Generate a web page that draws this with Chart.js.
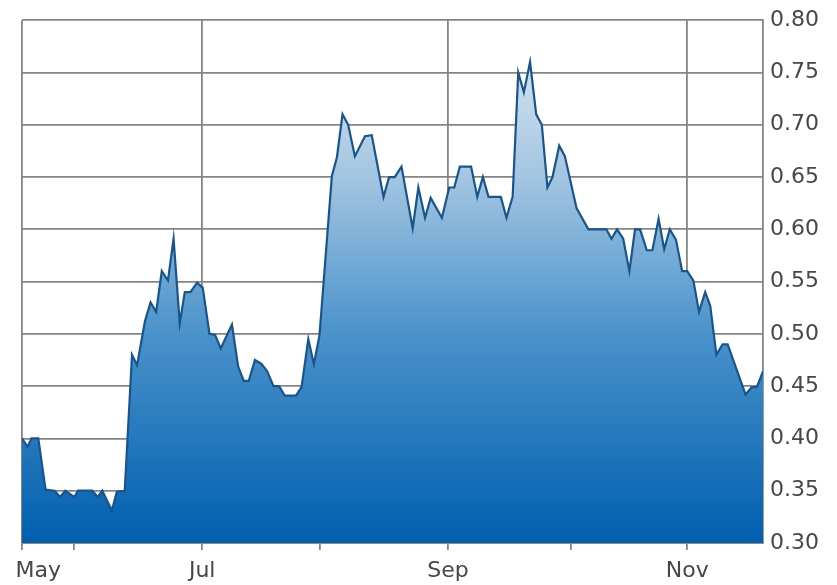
<!DOCTYPE html>
<html>
<head>
<meta charset="utf-8">
<script src="https://cdn.jsdelivr.net/npm/chart.js@4/dist/chart.umd.min.js"></script>
<style>
  html, body { margin: 0; padding: 0; background: #ffffff; }
  canvas { display: block; }
</style>
</head>
<body>
<canvas id="c" width="837" height="585"></canvas>
<script>
// Trading-day position (index) of each turning point of the line
const dayIndex = [0, 1.0, 1.7, 2.9, 4.2, 5.8, 6.8, 7.7, 9.3, 10.0, 12.5, 13.5, 14.3, 16.0, 16.9, 18.3,
  19.6, 20.5, 21.9, 22.9, 23.9, 24.9, 26.0, 27.0, 28.1, 29.0, 30.0, 31.2, 32.2, 33.4, 34.4, 35.4,
  37.4, 38.5, 39.5, 40.4, 41.5, 42.7, 43.7, 44.8, 45.8, 46.8, 48.8, 49.8, 51.0, 52.0, 53.0,
  55.2, 56.1, 57.1, 58.1, 59.3, 61.1, 62.3, 64.4, 65.4, 66.4, 67.6, 69.6, 70.6, 71.8, 72.8,
  74.8, 76.1, 77.0, 78.0, 80.0, 81.1, 82.1, 83.1, 85.3, 86.3, 87.4, 88.4, 89.4, 90.5, 91.6,
  92.6, 93.6, 94.5, 95.7, 96.7, 98.8, 100.9, 104.1, 105.0, 106.0, 107.1, 108.2, 109.2, 110.1,
  111.3, 112.3, 113.4, 114.4, 115.4, 116.5, 117.6, 118.5, 119.6, 120.6, 121.7, 122.6, 123.7,
  124.8, 125.7, 128.9, 130.0, 130.9, 132.0];
const values = [0.400, 0.392, 0.400, 0.400, 0.351, 0.350, 0.344, 0.350, 0.344, 0.350, 0.350, 0.344, 0.350, 0.331, 0.349, 0.350,
  0.480, 0.470, 0.512, 0.530, 0.521, 0.560, 0.551, 0.591, 0.510, 0.540, 0.540, 0.549, 0.544, 0.500, 0.499, 0.486,
  0.509, 0.469, 0.455, 0.455, 0.475, 0.471, 0.464, 0.450, 0.450, 0.441, 0.441, 0.449, 0.495, 0.471, 0.499,
  0.651, 0.669, 0.710, 0.700, 0.670, 0.689, 0.690, 0.631, 0.650, 0.650, 0.660, 0.601, 0.640, 0.611, 0.630,
  0.611, 0.640, 0.640, 0.660, 0.660, 0.631, 0.650, 0.631, 0.631, 0.611, 0.631, 0.750, 0.731, 0.760, 0.710,
  0.700, 0.640, 0.650, 0.680, 0.670, 0.620, 0.600, 0.600, 0.591, 0.600, 0.591, 0.560, 0.600, 0.600,
  0.580, 0.580, 0.610, 0.581, 0.600, 0.590, 0.560, 0.560, 0.551, 0.521, 0.540, 0.527, 0.480,
  0.490, 0.490, 0.442, 0.449, 0.449, 0.464];

// Month boundaries (tick marks) in trading-day index
const monthTicks = [0, 9.3, 32.1, 53.1, 75.9, 97.8, 118.5];
const gridMonths = [0, 32.1, 75.9, 118.5];
// Labelled months and where their labels sit
const monthLabels = ['May', 'Jul', 'Sep', 'Nov'];
const monthLabelPos = [2.9, 32.1, 75.9, 118.5];

const xMin = 0, xMax = 132;
const yMin = 0.30, yMax = 0.80, yStep = 0.05;

const GRID = '#858585';
const TEXT = '#474747';
const FONT = { family: "'DejaVu Sans', Verdana, sans-serif", size: 22 };

function areaGradient(ctx) {
  const chart = ctx.chart;
  const a = chart.chartArea;
  if (!a) return '#4f95cc';
  const g = chart.ctx.createLinearGradient(0, a.top, 0, a.bottom);
  g.addColorStop(0, '#e2ecf5');
  g.addColorStop(0.3, '#a3c5e1');
  g.addColorStop(0.6, '#4a92cb');
  g.addColorStop(1, '#005fae');
  return g;
}

new Chart(document.getElementById('c'), {
  type: 'line',
  data: {
    datasets: [{
      data: dayIndex.map((x, i) => ({ x: x, y: values[i] })),
      borderColor: '#18558c',
      borderWidth: 2.2,
      backgroundColor: areaGradient,
      fill: 'start',
      tension: 0,
      pointRadius: 0,
      xAxisID: 'x',
      yAxisID: 'y'
    }]
  },
  options: {
    responsive: false,
    animation: false,
    layout: { padding: { left: 22, top: 17, right: 0, bottom: 0 } },
    plugins: { legend: { display: false }, tooltip: { enabled: false } },
    scales: {
      x: {
        type: 'linear',
        position: 'bottom',
        min: xMin, max: xMax,
        afterBuildTicks: s => { s.ticks = monthTicks.map(v => ({ value: v })); },
        afterFit: s => { s.height = 8; },
        ticks: { display: false },
        grid: {
          drawTicks: true,
          tickLength: 7,
          lineWidth: 1.8,
          tickColor: GRID,
          color: c => (c.tick && gridMonths.includes(c.tick.value)) ? GRID : 'rgba(0,0,0,0)'
        },
        border: { display: true, color: GRID, width: 1.8 }
      },
      x2: {
        type: 'linear',
        axis: 'x',
        position: 'bottom',
        min: xMin, max: xMax,
        afterBuildTicks: s => { s.ticks = monthLabelPos.map(v => ({ value: v })); },
        afterFit: s => { s.height = 34; },
        ticks: {
          autoSkip: false,
          maxRotation: 0,
          padding: 7,
          color: TEXT,
          font: FONT,
          callback: (v, i) => monthLabels[i]
        },
        grid: { display: false, drawTicks: false },
        border: { display: false }
      },
      y: {
        type: 'linear',
        position: 'right',
        min: yMin, max: yMax,
        afterFit: s => { s.width = 74; },
        ticks: {
          stepSize: yStep,
          padding: 7,
          color: TEXT,
          font: FONT,
          callback: v => Number(v).toFixed(2)
        },
        grid: { color: GRID, lineWidth: 1.8, drawTicks: false },
        border: { display: true, color: GRID, width: 1.8 }
      }
    }
  }
});
</script>
</body>
</html>
